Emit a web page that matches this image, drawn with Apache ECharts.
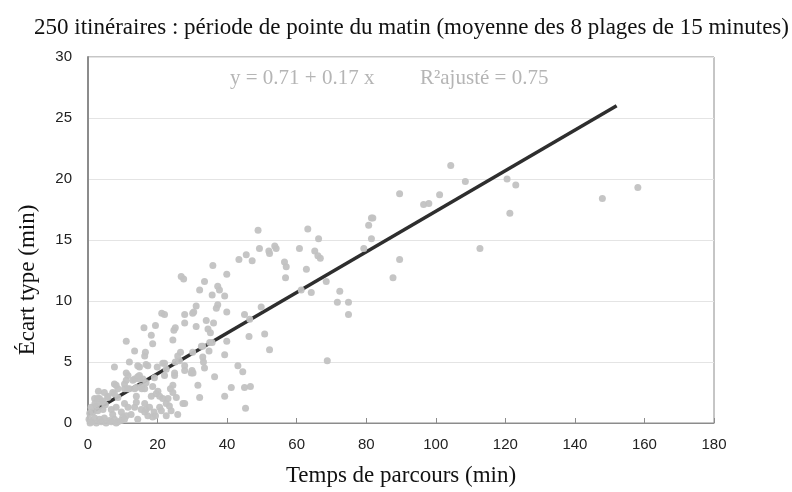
<!DOCTYPE html>
<html>
<head>
<meta charset="UTF-8">
<title>Temps de parcours et écart type</title>
<script type="text/javascript" src="https://cdn.jsdelivr.net/npm/echarts@6/dist/echarts.min.js"></script>
<style type="text/css">
body {
	margin: 0;
	background-color: #FFFFFF
}
</style>
</head>
<body>
	<div id="main_chart" style="width: 792px; height: 492px"></div>
</body>
<script type="text/javascript">
	// temps de parcours (min) et écart type (min)
	var tempsParcours = [
		0.5, 1.4, 0.9, 2.4, 1.9, 3.3, 4.3, 5.7, 4.7, 2.8, 4.3, 6.7, 8.1, 10.5, 11.5, 9.6, 11.0, 12.4,
		1.9, 3.3, 4.7, 6.2, 7.6, 8.6, 1.0, 2.4, 3.8, 5.2, 6.7, 8.1, 9.5, 0.3, 0.6, 2.0, 3.0, 5.0, 7.1, 10.0, 10.5,
		11.5, 12.9, 10.5, 11.9, 13.4, 7.6, 8.6, 7.1, 7.6, 8.6, 2.8, 3.8, 5.7, 13.9, 13.4,
		14.3, 15.8, 19.1, 22.0, 24.9, 13.9, 15.3, 16.3, 20.1, 19.6, 20.6, 24.4, 23.0, 25.4, 27.8, 16.3, 17.7, 15.3, 20.6, 21.1, 23.4, 23.9, 25.8, 17.2, 18.6, 14.3, 22.5, 13.9,
		16.7, 16.3, 19.0, 19.4, 18.2, 21.5, 22.5, 27.3, 16.7, 15.5, 18.6, 24.4, 23.7, 10.5, 11.4, 8.1, 11.0, 13.4, 14.8, 22.5, 24.9, 27.8, 29.9,
		21.2, 22.0, 27.8, 30.1, 16.1, 19.4, 25.1, 24.7, 27.8, 11.0, 18.2, 18.6, 24.4, 13.4, 16.5, 16.3, 26.6, 30.1, 22.0, 21.5, 25.1, 11.9, 7.6, 14.8, 17.2, 19.9, 26.3, 14.3, 16.7, 25.8, 27.8, 29.7, 11.0, 14.8, 26.8, 27.5,
		49.3, 52.0, 52.2, 53.7, 54.1, 45.5, 43.4, 47.2, 35.9, 56.5, 57.0, 39.9, 33.5, 56.8, 32.1, 37.3, 37.8, 35.7, 39.3, 37.3, 36.9, 31.1, 30.4, 39.9, 49.8, 45.0, 34.0, 36.1, 31.1, 34.5,
		35.2, 46.5, 50.8, 46.3, 35.0, 35.7, 39.9, 32.6, 33.0, 34.8, 52.2, 39.3, 33.0, 33.2, 33.5, 30.2, 43.1, 44.5, 36.4, 31.6, 41.2, 45.0, 46.7, 32.1, 39.3, 45.3, 48.9,
		89.6, 81.5, 81.9, 80.7, 63.2, 66.3, 81.5, 60.8, 65.2, 66.1, 66.8, 79.3, 89.6, 62.8, 87.7, 61.3, 64.2, 68.5, 72.4, 71.7, 74.9, 74.9, 68.8,
		104.3, 108.5, 96.5, 98.0, 101.1, 120.5, 123.0, 121.3, 112.7, 147.9, 158.1
	];
	var ecartType = [
		0.8, 0.9, 1.3, 1.4, 2.0, 2.0, 1.8, 2.1, 2.5, 1.0, 1.1, 1.1, 1.3, 1.6, 1.3, 0.9, 0.6, 0.7,
		0.4, 0.3, 0.4, 0.2, 0.3, 0.1, 0.1, 0.0, 0.1, 0.0, 0.1, 0.0, 0.2, 0.3, 0.0, 1.6, 2.6, 1.5, 0.7, 0.5, 0.3,
		3.9, 3.5, 3.2, 2.8, 2.8, 3.2, 2.8, 2.5, 2.4, 2.1, 2.0, 1.7, 2.2, 2.2, 1.3,
		3.8, 3.6, 3.7, 3.9, 3.9, 2.9, 3.0, 2.8, 2.6, 2.4, 2.2, 2.5, 2.0, 2.1, 1.6, 1.6, 1.3, 1.1, 1.3, 1.0, 1.4, 1.0, 0.7, 0.6, 0.5, 0.3, 0.6, 1.7,
		1.1, 0.9, 0.9, 0.6, 2.2, 2.0, 1.6, 1.6, 3.3, 2.8, 3.0, 3.1, 2.8, 2.8, 2.8, 3.1, 3.5, 3.6, 3.6, 4.4, 4.1, 4.3, 4.3,
		9.0, 8.9, 8.9, 9.0, 7.8, 8.0, 7.8, 7.6, 8.2, 6.7, 7.2, 6.5, 6.8, 5.9, 5.8, 5.5, 5.8, 5.8, 4.9, 4.9, 5.0, 5.0, 4.6, 4.6, 4.7, 4.6, 5.1, 4.7, 4.8, 5.5, 4.7, 4.1, 4.1, 3.9, 12.0, 11.8,
		14.3, 14.1, 13.9, 14.5, 14.3, 13.8, 13.4, 13.3, 12.9, 13.2, 12.8, 12.2, 11.6, 11.9, 10.9, 11.2, 10.9, 10.5, 10.4, 9.7, 9.4, 9.6, 9.1, 9.1, 9.5, 8.9, 8.4, 8.2, 7.9, 7.7,
		7.4, 8.5, 7.3, 7.1, 6.6, 6.6, 6.7, 6.3, 6.3, 5.9, 6.0, 5.6, 5.4, 5.0, 4.5, 4.1, 4.7, 4.2, 3.8, 3.1, 2.9, 2.9, 3.0, 2.1, 2.2, 1.2, 15.8,
		18.8, 16.8, 16.8, 16.2, 15.9, 15.1, 15.1, 14.3, 14.1, 13.7, 13.5, 14.3, 13.4, 12.6, 11.9, 10.9, 10.7, 11.6, 10.8, 9.9, 9.9, 8.9, 5.1,
		21.1, 19.8, 17.9, 18.0, 18.7, 20.0, 19.5, 17.2, 14.3, 18.4, 19.3
	];
	// droite de régression (extrémités)
	var droiteX = [0, 152];
	var droiteY = [0.71, 26.0];
	var xTicks = [0, 180, 20];
	var yTicks = [0, 30, 5];

	initChart();

	function initChart() {
		var myChart = echarts.init(document.getElementById("main_chart"));
		var points = [];
		for (var i = 0; i < tempsParcours.length; i++) {
			points.push([tempsParcours[i], ecartType[i]]);
		}
		var droite = [];
		for (var j = 0; j < droiteX.length; j++) {
			droite.push([droiteX[j], droiteY[j]]);
		}
		var serif = "'Liberation Serif', 'Times New Roman', serif";
		var sans = "'Liberation Sans', Arial, sans-serif";
		var option = {
			animation : false,
			title : {
				text : '250 itinéraires : période de pointe du matin (moyenne des 8 plages de 15 minutes)',
				left : 29,
				top : 11,
				textStyle : {
					fontFamily : serif,
					fontSize : 23,
					fontWeight : 'normal',
					color : '#111'
				}
			},
			grid : {
				left : 88,
				right : 78,
				top : 57,
				bottom : 68,
				show : true,
				borderColor : '#8c8c8c',
				borderWidth : 1
			},
			graphic : [ {
				type : 'text',
				left : 230,
				top : 68,
				style : {
					text : 'y = 0.71 + 0.17 x',
					font : "21px " + serif,
					fill : '#b5b5b5'
				}
			}, {
				type : 'text',
				left : 420,
				top : 68,
				style : {
					text : 'R²ajusté = 0.75',
					font : "21px " + serif,
					fill : '#b5b5b5'
				}
			}, {
				// titre de l'axe vertical, placé un peu sous le milieu comme sur l'original
				type : 'text',
				x : 28,
				y : 280,
				rotation : Math.PI / 2,
				style : {
					text : 'Écart type (min)',
					font : "23px " + serif,
					fill : '#111',
					textAlign : 'center',
					textVerticalAlign : 'middle'
				}
			} ],
			xAxis : {
				type : 'value',
				min : xTicks[0],
				max : xTicks[1],
				interval : xTicks[2],
				name : 'Temps de parcours (min)',
				nameLocation : 'middle',
				nameGap : 41,
				nameTextStyle : {
					fontFamily : serif,
					fontSize : 23,
					color : '#111'
				},
				axisLine : {
					lineStyle : {
						color : '#8c8c8c'
					}
				},
				axisTick : {
					inside : true,
					length : 5,
					lineStyle : {
						color : '#8c8c8c'
					}
				},
				axisLabel : {
					fontFamily : sans,
					fontSize : 15,
					color : '#222',
					margin : 14
				},
				splitLine : {
					show : false
				}
			},
			yAxis : {
				type : 'value',
				min : yTicks[0],
				max : yTicks[1],
				interval : yTicks[2],
				axisLine : {
					show : true,
					lineStyle : {
						color : '#8c8c8c',
						width : 2
					}
				},
				axisTick : {
					show : false
				},
				axisLabel : {
					fontFamily : sans,
					fontSize : 15,
					color : '#222',
					margin : 16
				},
				splitLine : {
					lineStyle : {
						color : '#e4e4e4'
					}
				}
			},
			series : [ {
				name : 'droite',
				type : 'line',
				data : droite,
				symbol : 'none',
				z : 2,
				lineStyle : {
					color : '#2e2e2e',
					width : 3.5
				}
			}, {
				name : 'itinéraires',
				type : 'scatter',
				data : points,
				symbolSize : 7,
				z : 3,
				itemStyle : {
					color : '#c2c2c2',
					opacity : 0.95
				}
			} ]
		};
		myChart.setOption(option);
	}
</script>
</html>
